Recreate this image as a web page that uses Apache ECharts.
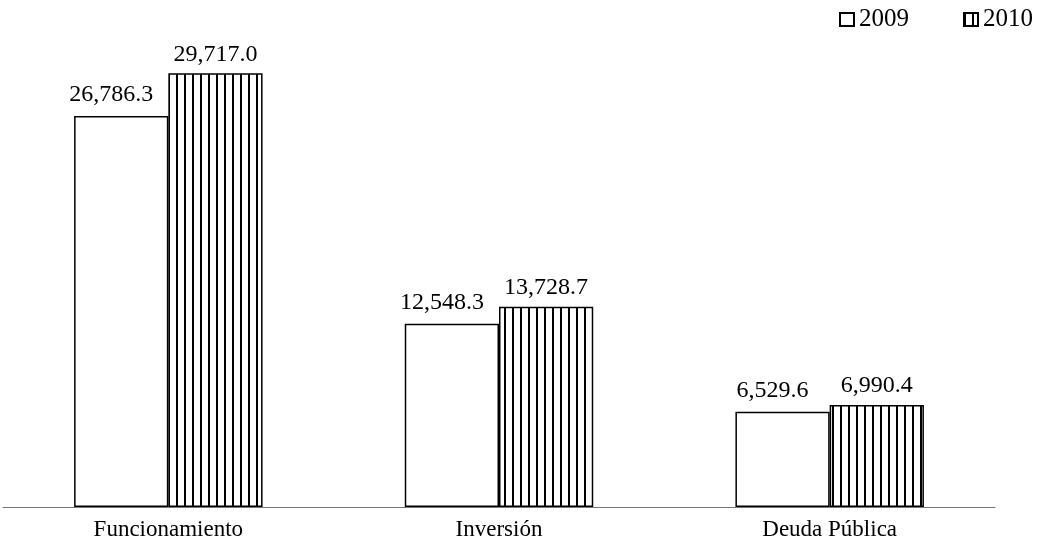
<!DOCTYPE html>
<html><head><meta charset="utf-8">
<script src="https://cdn.jsdelivr.net/npm/echarts@6/dist/echarts.min.js"></script>
<style>html,body{margin:0;padding:0;background:#fff}#c{width:1042px;height:546px}</style>
</head><body><div id="c"></div>
<script>
const categories = ['Funcionamiento', 'Inversión', 'Deuda Pública'];
const series2009 = [26786.3, 12548.3, 6529.6];
const series2010 = [29717.0, 13728.7, 6990.4];
const seriesNames = ['2009', '2010'];

function hatch() {
  const c = document.createElement('canvas');
  c.width = 8; c.height = 8;
  const g = c.getContext('2d');
  g.fillStyle = '#fff'; g.fillRect(0, 0, 8, 8);
  g.fillStyle = '#000'; g.fillRect(0, 0, 2, 8);
  return c;
}
const pat = { image: hatch(), repeat: 'repeat' };
const fmt = v => v.toLocaleString('en-US', { minimumFractionDigits: 1, maximumFractionDigits: 1 });
const font = '"Liberation Serif", "DejaVu Serif", serif';

const chart = echarts.init(document.getElementById('c'));
chart.setOption({
  animation: false,
  textStyle: { fontFamily: font },
  legend: {
    right: 4, top: 2, itemGap: 54, itemWidth: 14, itemHeight: 13, icon: 'rect',
    textStyle: { fontFamily: font, fontSize: 25, color: '#000' },
    data: seriesNames
  },
  grid: { left: 3, right: 47, top: 40, bottom: 39 },
  xAxis: {
    type: 'category', data: categories,
    axisLine: { lineStyle: { color: '#777', width: 1 } },
    axisTick: { show: false },
    axisLabel: { color: '#000', fontSize: 23, fontFamily: font, margin: 11 }
  },
  yAxis: { type: 'value', min: 0, max: 32000, show: false, splitLine: { show: false } },
  series: [
    {
      name: seriesNames[0], type: 'bar', data: series2009, barGap: '0%', barCategoryGap: '43%',
      itemStyle: { color: '#fff', borderColor: '#000', borderWidth: 1.5 },
      label: { show: true, position: 'top', distance: 9, color: '#000', fontSize: 24, fontFamily: font, formatter: p => fmt(p.value), offset: [-10, 0] }
    },
    {
      name: seriesNames[1], type: 'bar', data: series2010,
      itemStyle: { color: pat, borderColor: '#000', borderWidth: 1.5 },
      label: { show: true, position: 'top', distance: 7, color: '#000', fontSize: 24, fontFamily: font, formatter: p => fmt(p.value) }
    }
  ]
});
</script></body></html>
